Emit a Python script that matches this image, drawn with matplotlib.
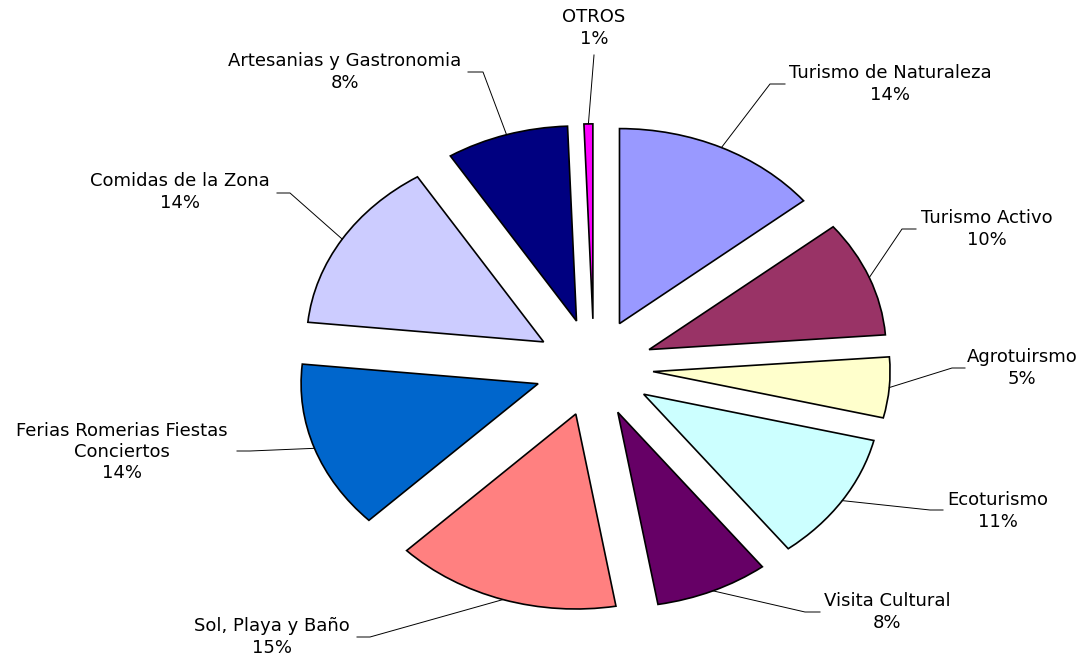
import numpy as np
import matplotlib
matplotlib.use("Agg")
import matplotlib.pyplot as plt

# data (shares, clockwise from 12 o'clock)
categories = ["Turismo de Naturaleza", "Turismo Activo", "Agrotuirsmo", "Ecoturismo",
              "Visita Cultural", "Sol, Playa y Baño", "Ferias Romerias Fiestas\nConciertos",
              "Comidas de la Zona", "Artesanias y Gastronomia", "OTROS"]
values = [14.1, 9.6, 5.0, 10.7, 7.7, 15.3, 13.9, 14.4, 8.3, 0.6]
colors = ["#9999FF", "#993366", "#FFFFCC", "#CCFFFF", "#660066",
          "#FF8080", "#0066CC", "#CCCCFF", "#000080", "#FF00FF"]

# layout in pixels of the 1085x658 image
W, H = 1085, 658
CX, CY, RX, RY = 594, 367.6, 237, 195
label_pos = [(890, 84), (987, 229), (1022, 368), (998, 511), (887, 612),
             (272, 637), (122, 452), (180, 192), (345, 72), (594, 28)]
leader_pts = [((770, 84), (785, 84)), ((902, 229), (916, 229)), ((952, 368), (965, 368)),
              ((930, 510), (943, 510)), ((805, 612), (820, 612)), ((370, 637), (357, 637)),
              ((250, 451), (237, 451)), ((290, 193), (277, 193)), ((483, 72), (468, 72)),
              ((594, 55), (594, 55))]


def px(p):
    # pixel position -> data coordinates (unit pie stretched to RX x RY pixels)
    return ((p[0] - CX) / RX, (CY - p[1]) / RY)


fig = plt.figure(figsize=(W / 100, H / 100), dpi=100)
ax = fig.add_axes([0, 0, 1, 1])

wedges, _ = ax.pie(values, explode=[0.25] * len(values), colors=colors,
                   startangle=90, counterclock=False, radius=1,
                   wedgeprops=dict(edgecolor="black", linewidth=1.2))
ax.set_aspect("auto")
ax.set_xlim(px((0, 0))[0], px((W, 0))[0])
ax.set_ylim(px((0, H))[1], px((0, 0))[1])
ax.axis("off")

total = sum(values)
for w, v, name, lp, (elbow, end) in zip(wedges, values, categories, label_pos, leader_pts):
    mid = np.deg2rad((w.theta1 + w.theta2) / 2)
    x0 = w.center[0] + w.r * np.cos(mid)
    y0 = w.center[1] + w.r * np.sin(mid)
    ex, ey = px(elbow)
    fx, fy = px(end)
    ax.plot([x0, ex, fx], [y0, ey, fy], color="black", lw=0.7)
    tx, ty = px(lp)
    ax.text(tx, ty, f"{name}\n{round(v / total * 100):.0f}%", ha="center", va="center",
            multialignment="center", fontsize=13, family="DejaVu Sans", linespacing=1.25)

fig.savefig("out.png", dpi=100)
